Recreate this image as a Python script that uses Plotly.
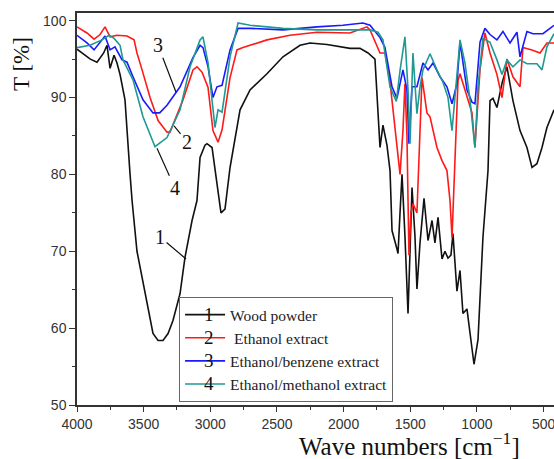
import plotly.graph_objects as go

# ---- data ----
wn_black = [4000,3940,3900,3850,3800,3775,3752,3722,3700,3677,
            3640,3602,3587,3550,3505,3467,3430,3392,3355,3317,
            3280,3227,3190,3137,3100,3077,3040,3025,2987,2950,
            2920,2890,2852,2777,2702,2575,2455,2327,2252,2125,
            1952,1877,1817,1765,1742,1727,1705,1675,1652,1637,
            1600,1592,1577,1562,1540,1517,1502,1487,1465,1450,
            1427,1397,1367,1337,1315,1292,1262,1240,1217,1195,
            1180,1150,1127,1105,1075,1052,1022,992,955,917,
            902,880,850,810,775,730,677,625,587,550,
            512,475,422]
t_black = [96.3,95.5,95.0,94.6,95.8,96.8,93.8,95.5,94.5,93.0,
           89.7,80.0,76.6,70.0,65.8,62.3,59.3,58.4,58.4,59.3,
           61.0,64.5,69.2,74.0,76.6,82.2,83.8,84.0,83.5,78.8,
           75.0,75.5,80.9,88.4,91.0,93.1,95.3,96.8,97.1,96.9,
           96.4,96.4,95.8,95.0,87.0,83.5,86.4,83.8,80.5,72.7,
           70.3,69.7,75.0,80.0,72.0,61.9,70.0,78.3,72.0,65.1,
           71.1,76.9,71.4,74.0,71.1,74.4,69.0,70.0,69.1,69.5,
           72.3,64.8,67.5,61.9,62.5,59.6,55.3,58.5,71.8,80.5,
           89.6,89.9,88.7,92.0,94.0,89.6,85.7,83.5,80.9,81.4,
           83.5,86.1,88.4]

wn_red = [4000,3925,3872,3827,3790,3752,3700,3625,3572,3550,
          3512,3452,3392,3325,3302,3205,3130,3100,3062,3017,
          2980,2942,2912,2852,2800,2755,2575,2402,2200,1952,
          1825,1802,1727,1690,1652,1630,1592,1577,1555,1540,
          1525,1510,1495,1480,1450,1427,1412,1375,1352,1300,
          1262,1225,1202,1187,1165,1142,1127,1075,1037,1015,
          977,940,902,850,812,775,730,677,655,587,
          527,475,422]
t_red = [99.2,98.4,97.6,98.2,99.2,97.9,98.1,98.0,97.5,95.8,
         93.6,90.0,87.0,85.5,85.5,89.7,93.6,94.0,93.3,91.3,
         85.7,84.2,85.8,92.6,96.2,96.5,97.5,98.1,98.5,98.4,
         99.2,98.8,95.8,95.8,92.0,88.4,82.7,80.0,85.7,91.8,
         85.0,69.5,75.0,76.2,75.0,85.0,92.6,88.0,87.5,83.5,
         81.8,80.5,76.6,71.8,82.0,92.2,93.1,90.0,88.0,83.5,
         93.6,98.4,95.8,93.0,90.0,95.0,92.7,91.4,96.5,96.2,
         95.8,97.1,97.1]

wn_blue = [4000,3925,3872,3827,3790,3752,3715,3662,3625,3580,
           3505,3430,3380,3325,3227,3130,3077,3055,3017,2980,
           2950,2912,2852,2792,2702,2455,2200,2005,1855,1802,
           1727,1690,1637,1600,1555,1525,1510,1487,1450,1405,
           1367,1330,1277,1225,1187,1150,1127,1075,1037,1015,
           977,940,902,850,805,752,700,677,625,580,
           505,452,422]
t_blue = [98.1,97.1,96.2,97.2,98.0,96.2,96.6,94.9,94.6,92.7,
          89.7,88.0,88.0,89.0,91.4,95.2,96.8,96.5,94.0,90.0,
          91.4,91.6,96.2,99.0,99.0,98.8,99.2,99.4,99.7,99.4,
          97.8,96.5,91.4,89.9,93.6,91.0,84.0,91.4,91.4,94.5,
          93.6,94.5,92.7,91.4,89.2,91.8,97.2,91.0,89.4,89.2,
          97.2,99.0,98.2,97.5,98.6,97.1,98.5,95.3,98.6,98.3,
          98.3,99.0,99.4]

wn_teal = [4000,3902,3812,3760,3722,3677,3655,3580,3505,3415,
           3325,3227,3152,3077,3055,3017,2965,2942,2912,2852,
           2792,2702,2455,2200,1952,1802,1742,1705,1675,1652,
           1605,1577,1540,1517,1502,1480,1450,1427,1405,1352,
           1300,1255,1217,1187,1165,1127,1090,1052,1015,992,
           955,902,850,812,775,730,677,625,550,512,
           475,422]
t_teal = [96.5,96.8,97.5,98.1,97.7,96.8,94.9,92.3,87.5,83.6,
          84.8,88.4,94.0,97.5,97.9,94.5,86.1,88.4,88.1,95.3,
          99.7,99.4,99.0,98.8,98.8,98.8,98.5,97.5,94.0,91.4,
          89.5,93.5,97.9,91.0,84.0,95.8,87.9,91.4,93.6,95.7,
          93.6,92.0,90.0,85.7,90.0,97.5,94.5,89.7,83.5,91.4,
          97.7,97.2,94.9,93.0,94.9,94.0,94.9,94.4,94.4,93.6,
          96.6,98.3]

series_names = ["Wood powder", " Ethanol extract", "Ethanol/benzene extract", "Ethanol/methanol extract"]
series_labels = ["1", "2", "3", "4"]
series_colors = ["#111111", "#ff1a1a", "#1a1aff", "#1e9a92"]

SERIF = "Liberation Serif, Times New Roman, serif"
SANS = "Liberation Sans, Arial, sans-serif"

fig = go.Figure()
for wn, t, name, color in zip([wn_black, wn_red, wn_blue, wn_teal],
                              [t_black, t_red, t_blue, t_teal],
                              series_names, series_colors):
    fig.add_trace(go.Scatter(x=wn, y=t, mode="lines", name=name,
                             line=dict(color=color, width=1.6)))

# curve labels with leader lines
curve_label_pts = [(3182, 69.0, -26, -22), (3272, 86.3, 13, 16), (3257, 90.7, -18, -47), (3400, 83.4, 18, 40)]
for lab, (x, y, ax, ay) in zip(series_labels, curve_label_pts):
    fig.add_annotation(x=x, y=y, xref="x", yref="y", text=lab, showarrow=True,
                       arrowhead=0, arrowwidth=1.2, arrowcolor="#111", ax=ax, ay=ay,
                       font=dict(family=SERIF, size=20, color="#111"))

# numbers over legend line samples
leg_num_y = [0.2321, 0.1730, 0.1140, 0.0550]
for lab, yy in zip(series_labels, leg_num_y):
    fig.add_annotation(x=0.277, y=yy, xref="paper", yref="paper", text=lab, showarrow=False,
                       xanchor="center", yanchor="middle",
                       font=dict(family=SERIF, size=19, color="#111"))

# axis titles
fig.add_annotation(x=-0.1153, y=0.870, xref="paper", yref="paper", text="T [%]", textangle=-90,
                   xanchor="center", yanchor="middle",
                   showarrow=False, font=dict(family=SERIF, size=23, color="#111"))
fig.add_annotation(x=0.698, y=-0.0995, xref="paper", yref="paper",
                   text="Wave numbers [cm<sup>−1</sup>]", showarrow=False,
                   xanchor="center", yanchor="middle",
                   font=dict(family=SERIF, size=25, color="#111"))

fig.update_layout(
    width=554, height=459,
    margin=dict(l=77, r=0, t=13, b=54, autoexpand=False),
    plot_bgcolor="white", paper_bgcolor="white",
    showlegend=True,
    legend=dict(x=0.214, y=0.2755, xanchor="left", yanchor="top",
                bgcolor="white", bordercolor="#666", borderwidth=1,
                font=dict(family=SERIF, size=15.5, color="#222"),
                itemwidth=40, tracegroupgap=0),
)
fig.update_xaxes(range=[4000, 422], showgrid=False, zeroline=False, automargin=False,
                 showline=True, linecolor="#333", linewidth=1.5, mirror=True,
                 ticks="outside", ticklen=5, tickwidth=1.2, tickcolor="#333",
                 tickvals=[4000, 3500, 3000, 2500, 2000, 1500, 1000, 500],
                 ticklabeloverflow="allow",
                 minor=dict(ticks="outside", ticklen=3, tickcolor="#333", dtick=250, tick0=0),
                 tickfont=dict(family=SANS, size=14, color="#333"))
fig.update_yaxes(range=[50, 101], showgrid=False, zeroline=False, automargin=False,
                 showline=True, linecolor="#333", linewidth=1.5,
                 ticks="outside", ticklen=6, tickwidth=1.2, tickcolor="#333",
                 tickvals=[50, 60, 70, 80, 90, 100],
                 minor=dict(ticks="outside", ticklen=3, tickcolor="#333", dtick=5, tick0=0),
                 tickfont=dict(family=SANS, size=14, color="#333"))

fig.write_html("out.html", config={"displayModeBar": False},
               post_script="document.body.style.margin='0px';")
